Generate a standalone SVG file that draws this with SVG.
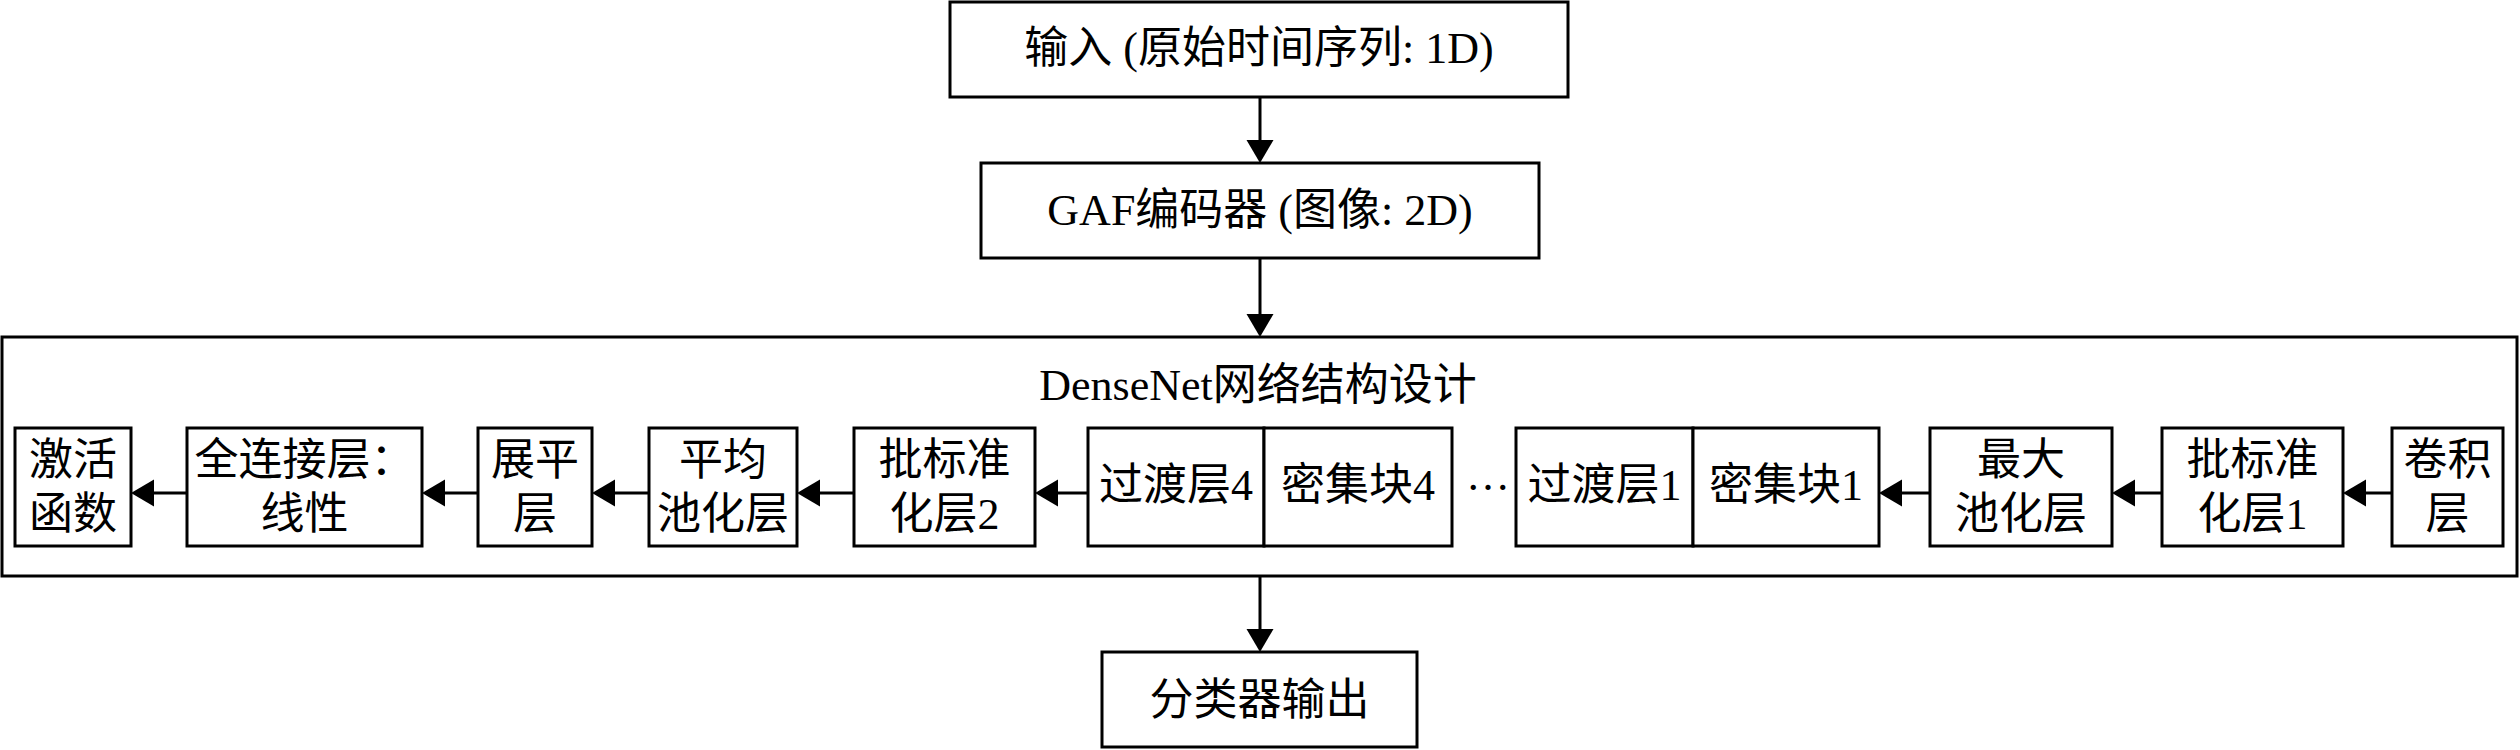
<svg xmlns="http://www.w3.org/2000/svg" width="2520" height="750" viewBox="0 0 2520 750">
<style>
.box{fill:#fff;stroke:#000;stroke-width:3}
.frame{fill:none;stroke:#000;stroke-width:3}
.t{font-family:"Liberation Serif","Noto Sans CJK SC",serif;font-size:44px;fill:#000;text-anchor:middle}
.c{stroke:#000;stroke-width:3;fill:none;marker-end:url(#ah)}
</style>
<defs>
<marker id="ah" markerUnits="userSpaceOnUse" markerWidth="24" markerHeight="28" refX="0" refY="13.5" orient="auto" viewBox="0 0 24 28">
<path d="M0,0 L23,13.5 L0,27 Z" fill="#000"/>
</marker>
</defs>
<rect width="2520" height="750" fill="#fff"/>
<g id="input">
<rect class="box" x="950" y="2" width="618" height="95"/>
<text class="t" x="1259" y="63">输入 (原始时间序列: 1D)</text>
</g>
<g id="gaf">
<rect class="box" x="981" y="163" width="558" height="95"/>
<text class="t" x="1260" y="225">GAF编码器 (图像: 2D)</text>
</g>
<g id="densenet">
<rect class="frame" x="2" y="337" width="2515" height="239"/>
<text class="t" x="1258" y="400">DenseNet网络结构设计</text>
</g>
<g id="act">
<rect class="box" x="15" y="428" width="116" height="118"/>
<text class="t" x="73" y="475">激活</text>
<text class="t" x="73" y="529">函数</text>
</g>
<g id="fc">
<rect class="box" x="187" y="428" width="235" height="118"/>
<text class="t" x="304.5" y="475">全连接层：</text>
<text class="t" x="304.5" y="529">线性</text>
</g>
<g id="flatten">
<rect class="box" x="478" y="428" width="114" height="118"/>
<text class="t" x="535" y="475">展平</text>
<text class="t" x="535" y="529">层</text>
</g>
<g id="avgpool">
<rect class="box" x="649" y="428" width="148" height="118"/>
<text class="t" x="723" y="475">平均</text>
<text class="t" x="723" y="529">池化层</text>
</g>
<g id="bn2">
<rect class="box" x="854" y="428" width="181" height="118"/>
<text class="t" x="944.5" y="475">批标准</text>
<text class="t" x="944.5" y="529">化层2</text>
</g>
<g id="trans4">
<rect class="box" x="1088" y="428" width="176" height="118"/>
<text class="t" x="1176" y="500">过渡层4</text>
</g>
<g id="dense4">
<rect class="box" x="1264" y="428" width="188" height="118"/>
<text class="t" x="1358" y="500">密集块4</text>
</g>
<g id="dots">
<text class="t" x="1488" y="490">…</text>
</g>
<g id="trans1">
<rect class="box" x="1516" y="428" width="177" height="118"/>
<text class="t" x="1604.5" y="500">过渡层1</text>
</g>
<g id="dense1">
<rect class="box" x="1693" y="428" width="186" height="118"/>
<text class="t" x="1786" y="500">密集块1</text>
</g>
<g id="maxpool">
<rect class="box" x="1930" y="428" width="182" height="118"/>
<text class="t" x="2021" y="475">最大</text>
<text class="t" x="2021" y="529">池化层</text>
</g>
<g id="bn1">
<rect class="box" x="2162" y="428" width="181" height="118"/>
<text class="t" x="2252.5" y="475">批标准</text>
<text class="t" x="2252.5" y="529">化层1</text>
</g>
<g id="conv">
<rect class="box" x="2392" y="428" width="111" height="118"/>
<text class="t" x="2447.5" y="475">卷积</text>
<text class="t" x="2447.5" y="529">层</text>
</g>
<g id="output">
<rect class="box" x="1102" y="652" width="315" height="95"/>
<text class="t" x="1259.5" y="715">分类器输出</text>
</g>
<g id="connectors">
<line class="c" x1="1260" y1="97" x2="1260" y2="140"/>
<line class="c" x1="1260" y1="258" x2="1260" y2="314"/>
<line class="c" x1="1260" y1="576" x2="1260" y2="629"/>
<line class="c" x1="187" y1="493" x2="154" y2="493"/>
<line class="c" x1="478" y1="493" x2="445" y2="493"/>
<line class="c" x1="649" y1="493" x2="615" y2="493"/>
<line class="c" x1="854" y1="493" x2="820" y2="493"/>
<line class="c" x1="1088" y1="493" x2="1058" y2="493"/>
<line class="c" x1="1930" y1="493" x2="1902" y2="493"/>
<line class="c" x1="2162" y1="493" x2="2135" y2="493"/>
<line class="c" x1="2392" y1="493" x2="2366" y2="493"/>
</g>
</svg>
